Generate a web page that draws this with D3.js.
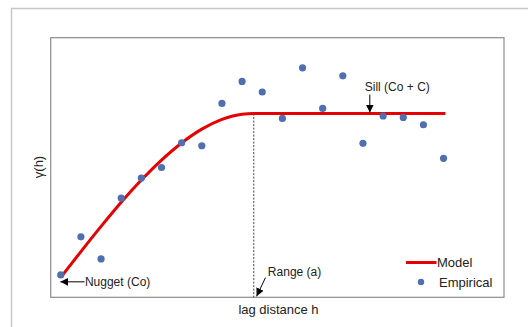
<!DOCTYPE html>
<meta charset="utf-8">
<head>
    <title>Variogram</title>
</head>
<style>
    body { margin: 0; background: #fff; }
    text { font-family: "Liberation Sans", Arial, sans-serif; fill: #222; }
</style>
<script src="https://d3js.org/d3.v7.min.js"></script>
<body>
    <div id="chart"></div>
</body>
<script>

    // empirical semivariance, lag 1..20
    var lags = [1, 2, 3, 4, 5, 6, 7, 8, 9, 10, 11, 12, 13, 14, 15, 16, 17, 18, 19, 20];
    var empirical = [1.12, 3.03, 1.92, 4.97, 5.97, 6.50, 7.74, 7.59, 9.71, 10.81,
                     10.28, 8.96, 11.49, 9.46, 11.09, 7.71, 9.08, 9.01, 8.64, 6.96];

    // model curve
    var modelLags = [1, 2, 3, 4, 5, 6, 7, 8, 9, 10, 10.58, 20.09];
    var modelValues = [1.0, 2.29, 3.55, 4.76, 5.87, 6.87, 7.73, 8.42, 8.91, 9.17, 9.2, 9.2];

    var nugget = 1.0, sill = 9.2, range = 10.58;

    var svg = d3.select("#chart")
        .append("svg")
        .attr("width", 528)
        .attr("height", 327);

    // outer frame (cut off on the right / bottom)
    svg.append("rect")
        .attr("x", 11.5).attr("y", 8.5)
        .attr("width", 560).attr("height", 360)
        .attr("fill", "none")
        .attr("stroke", "#c8c8c8")
        .attr("stroke-width", 1.5);

    var margin = { top: 37.7, left: 50.7 },
        width = 453.3,
        height = 259.6;

    var x = d3.scaleLinear().domain([0.5, 23.0]).range([0, width]);
    var y = d3.scaleLinear().domain([0, 13]).range([height, 0]);

    var g = svg.append("g")
        .attr("transform", "translate(" + margin.left + "," + margin.top + ")");

    var defs = svg.append("defs");
    defs.append("marker")
        .attr("id", "arrow")
        .attr("viewBox", "0 0 10 10")
        .attr("refX", 10).attr("refY", 5)
        .attr("markerWidth", 8).attr("markerHeight", 8)
        .attr("markerUnits", "userSpaceOnUse")
        .attr("orient", "auto")
        .append("path")
        .attr("d", "M0,0 L10,5 L0,10 Z")
        .attr("fill", "#000");

    // plot box
    g.append("rect")
        .attr("x", 0).attr("y", 0)
        .attr("width", width).attr("height", height)
        .attr("fill", "none")
        .attr("stroke", "#8c8c8c")
        .attr("stroke-width", 1.2);

    // range line
    g.append("line")
        .attr("x1", x(range)).attr("x2", x(range))
        .attr("y1", y(sill)).attr("y2", height)
        .attr("stroke", "#444")
        .attr("stroke-width", 1)
        .attr("stroke-dasharray", "2,1.5");

    // model
    var modelData = modelLags.map(function (d, i) { return [d, modelValues[i]]; });
    g.append("path")
        .datum(modelData)
        .attr("fill", "none")
        .attr("stroke", "#e60000")
        .attr("stroke-width", 3)
        .attr("d", d3.line()
            .curve(d3.curveMonotoneX)
            .x(function (d) { return x(d[0]); })
            .y(function (d) { return y(d[1]); }));

    // empirical points
    g.selectAll(".pt")
        .data(lags)
        .enter().append("circle")
        .attr("class", "pt")
        .attr("cx", function (d) { return x(d); })
        .attr("cy", function (d, i) { return y(empirical[i]); })
        .attr("r", 3.6)
        .attr("fill", "#4f6fb0");

    // annotations
    g.append("text").attr("x", x(16.09)).attr("y", y(sill) - 23)
        .style("font-size", "12px").text("Sill (Co + C)");
    g.append("line")
        .attr("x1", x(16.34)).attr("x2", x(16.34))
        .attr("y1", y(sill) - 19).attr("y2", y(sill) - 1)
        .attr("stroke", "#000").attr("stroke-width", 1)
        .attr("marker-end", "url(#arrow)");

    g.append("text").attr("x", x(2.2)).attr("y", y(nugget) + 8.5)
        .style("font-size", "12px").text("Nugget (Co)");
    g.append("line")
        .attr("x1", x(2.18)).attr("x2", x(0.98))
        .attr("y1", y(nugget) + 4.5).attr("y2", y(nugget) + 4.5)
        .attr("stroke", "#000").attr("stroke-width", 1)
        .attr("marker-end", "url(#arrow)");

    g.append("text").attr("x", x(11.28)).attr("y", 238.5)
        .style("font-size", "12px").text("Range (a)");
    g.append("line")
        .attr("x1", x(11.16)).attr("x2", x(10.72))
        .attr("y1", 240).attr("y2", height - 1)
        .attr("stroke", "#000").attr("stroke-width", 1)
        .attr("marker-end", "url(#arrow)");

    // axis titles
    svg.append("text")
        .attr("x", 278.5).attr("y", 313.5)
        .attr("text-anchor", "middle")
        .style("font-size", "13px")
        .text("lag distance h");

    svg.append("text")
        .attr("transform", "translate(42.5,167) rotate(-90)")
        .attr("text-anchor", "middle")
        .style("font-size", "13px")
        .text("γ(h)");

    // legend
    svg.append("line")
        .attr("x1", 406).attr("x2", 436.5)
        .attr("y1", 262.5).attr("y2", 262.5)
        .attr("stroke", "#e60000").attr("stroke-width", 3);
    svg.append("text").attr("x", 437).attr("y", 267)
        .style("font-size", "13px").text("Model");
    svg.append("circle")
        .attr("cx", 421).attr("cy", 282).attr("r", 3.2)
        .attr("fill", "#4f6fb0");
    svg.append("text").attr("x", 439).attr("y", 286.5)
        .style("font-size", "13px").text("Empirical");

</script>
